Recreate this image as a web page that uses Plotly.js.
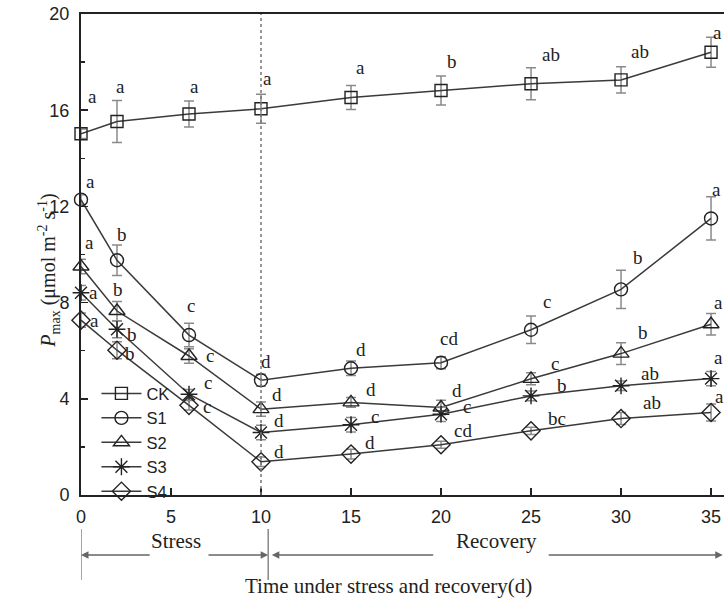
<!DOCTYPE html>
<html>
<head>
<meta charset="utf-8">
<script src="https://cdn.plot.ly/plotly-3.0.1.min.js"></script>
<style>html,body{margin:0;padding:0;background:#fff;}#chart{width:724px;height:616px;}</style>
</head>
<body>
<div id="chart"></div>
<script>
// ---- data ----
var days = [0, 2, 6, 10, 15, 20, 25, 30, 35];
var seriesNames = ["CK", "S1", "S2", "S3", "S4"];
var CK = [15.02, 15.53, 15.84, 16.06, 16.53, 16.82, 17.10, 17.26, 18.41];
var CK_err = [0.2, 0.87, 0.54, 0.6, 0.5, 0.6, 0.67, 0.55, 0.62];
var S1 = [12.28, 9.76, 6.65, 4.77, 5.27, 5.50, 6.87, 8.55, 11.5];
var S1_err = [0.2, 0.63, 0.49, 0.25, 0.3, 0.25, 0.57, 0.8, 0.9];
var S2 = [9.5, 7.65, 5.78, 3.57, 3.85, 3.64, 4.83, 5.88, 7.1];
var S2_err = [0.3, 0.4, 0.3, 0.3, 0.2, 0.3, 0.25, 0.45, 0.45];
var S3 = [8.41, 6.89, 4.19, 2.6, 2.92, 3.36, 4.12, 4.54, 4.84];
var S3_err = [0.3, 0.35, 0.2, 0.3, 0.3, 0.3, 0.2, 0.2, 0.3];
var S4 = [7.27, 6.02, 3.73, 1.38, 1.7, 2.09, 2.67, 3.18, 3.43];
var S4_err = [0.3, 0.35, 0.2, 0.2, 0.2, 0.15, 0.15, 0.25, 0.35];
// significance letters
var CK_sig = ["a", "a", "a", "a", "a", "b", "ab", "ab", "a"];
var S1_sig = ["a", "b", "c", "d", "d", "cd", "c", "b", "a"];
var S2_sig = ["a", "b", "c", "d", "d", "d", "c", "b", "a"];
var S3_sig = ["a", "b", "c", "d", "c", "c", "b", "ab", "a"];
var S4_sig = ["a", "b", "c", "d", "d", "cd", "bc", "ab", "a"];
var xTickVals = [0, 5, 10, 15, 20, 25, 30, 35];
var yTickVals = [0, 4, 8, 12, 16, 20];

// ---- placement of letters (pixel offsets from each point) ----
var CK_lab = [[11,37],[3,35],[5,28],[6,30],[9,30],[11,29],[20,29],[19,28],[6,20]];
var S1_lab = [[9,18],[5,26],[2,30],[5,19],[10,19],[8,24],[16,28],[17,32],[5,29]];
var S2_lab = [[8,24],[1,22],[21,0],[16,15],[20,13],[16,17],[24,15],[22,21],[7,22]];
var S3_lab = [[12,0],[15,-5],[19,12],[18,12],[24,8],[26,8],[31,10],[29,12],[7,21]];
var S4_lab = [[13,0],[13,-3],[18,-1],[18,10],[19,12],[22,14],[26,12],[31,16],[8,16]];

var values = [CK, S1, S2, S3, S4];
var errs = [CK_err, S1_err, S2_err, S3_err, S4_err];
var sigs = [CK_sig, S1_sig, S2_sig, S3_sig, S4_sig];
var labs = [CK_lab, S1_lab, S2_lab, S3_lab, S4_lab];
var symbols = ["square-open", "circle-open", "triangle-up-open", "asterisk-open", "diamond-open"];
var sizes = [12, 13, 14, 14, 14];

var lineCol = "#3a3a3a";
var traces = [];
for (var i = 0; i < 5; i++) {
  traces.push({
    x: days, y: values[i], name: seriesNames[i], type: "scatter", mode: "lines+markers",
    cliponaxis: false,
    line: {color: lineCol, width: 1.5},
    marker: {symbol: symbols[i], size: sizes[i], color: "#222", line: {color: "#222", width: 1.4}},
    error_y: {type: "data", array: errs[i], visible: true, color: "#8a8a8a", thickness: 1.5, width: 5}
  });
}

var serifFam = "Liberation Serif, Times New Roman, serif";
var annotations = [];
for (var s = 0; s < 5; s++) {
  for (var k = 0; k < days.length; k++) {
    annotations.push({
      x: days[k], y: values[s][k], xref: "x", yref: "y", text: sigs[s][k], showarrow: false,
      xshift: labs[s][k][0], yshift: labs[s][k][1],
      font: {family: serifFam, size: 19, color: "#222"}
    });
  }
}
var arrowY = -0.1247;
function arr(xHead, xTail) {
  return {x: xHead, y: arrowY, xref: "x", yref: "paper", ax: xTail, ay: 0, axref: "x", ayref: "pixel",
    text: "", showarrow: true, arrowhead: 2, arrowsize: 1, arrowwidth: 1.5, arrowcolor: "#666"};
}
annotations.push(arr(0, 3.9));
annotations.push(arr(10.4, 7.0));
annotations.push(arr(10.6, 19.65));
annotations.push(arr(35.65, 25.9));
var serifF = {family: serifFam, size: 21, color: "#222"};
annotations.push({x: 5.3, y: arrowY, xref: "x", yref: "paper", text: "Stress", showarrow: false, font: serifF});
annotations.push({x: 23.1, y: arrowY, xref: "x", yref: "paper", text: "Recovery", showarrow: false, font: serifF});
annotations.push({x: 0.479, y: -0.218, xref: "paper", yref: "paper", text: "Time under stress and recovery(d)", showarrow: false, font: serifF});
annotations.push({x: -0.075, y: 0.466, xref: "paper", yref: "paper", textangle: -90, showarrow: false,
  text: "<i>P</i><sub>max</sub> (μmol m<sup>-2</sup> s<sup>-1</sup>)", font: {family: serifFam, size: 20, color: "#222"}});

var shapes = [
  {type: "line", xref: "x", yref: "y", x0: 10, x1: 10, y0: 0, y1: 20, line: {color: "#777", width: 1.5, dash: "dot"}},
  {type: "line", xref: "x", yref: "paper", x0: 0, x1: 0, y0: -0.0707, y1: -0.1767, line: {color: "#888", width: 1.5}},
  {type: "line", xref: "x", yref: "paper", x0: 10.4, x1: 10.4, y0: -0.0707, y1: -0.1767, line: {color: "#888", width: 1.5}}
];

var tickFont = {family: "Liberation Sans, Arial, sans-serif", size: 18, color: "#222"};
var layout = {
  width: 724, height: 616,
  margin: {l: 81, r: 0, t: 14, b: 121},
  paper_bgcolor: "#fff", plot_bgcolor: "#fff",
  showlegend: true,
  legend: {x: 0.024, y: 0.247, xanchor: "left", yanchor: "top", bgcolor: "rgba(0,0,0,0)",
    font: {family: "Liberation Sans, Arial, sans-serif", size: 16.5, color: "#222"}, tracegroupgap: 0, itemwidth: 40},
  xaxis: {range: [0, 35.72], tickvals: xTickVals, ticks: "inside", ticklen: 7, tickwidth: 1.5, tickcolor: "#222",
    showline: true, linecolor: "#222", linewidth: 2, mirror: true, showgrid: false, zeroline: false,
    tickfont: tickFont, ticklabelstandoff: 4, fixedrange: true},
  yaxis: {range: [0, 20], tickvals: yTickVals, ticks: "inside", ticklen: 7, tickwidth: 1.5, tickcolor: "#222",
    minor: {dtick: 2, tick0: 0, ticks: "inside", ticklen: 4, tickcolor: "#222", showgrid: false},
    showline: true, linecolor: "#222", linewidth: 2, showgrid: false, zeroline: false,
    tickfont: tickFont, ticklabelstandoff: 6},
  annotations: annotations,
  shapes: shapes
};
Plotly.newPlot("chart", traces, layout, {displayModeBar: false, staticPlot: true});
</script>
</body>
</html>
